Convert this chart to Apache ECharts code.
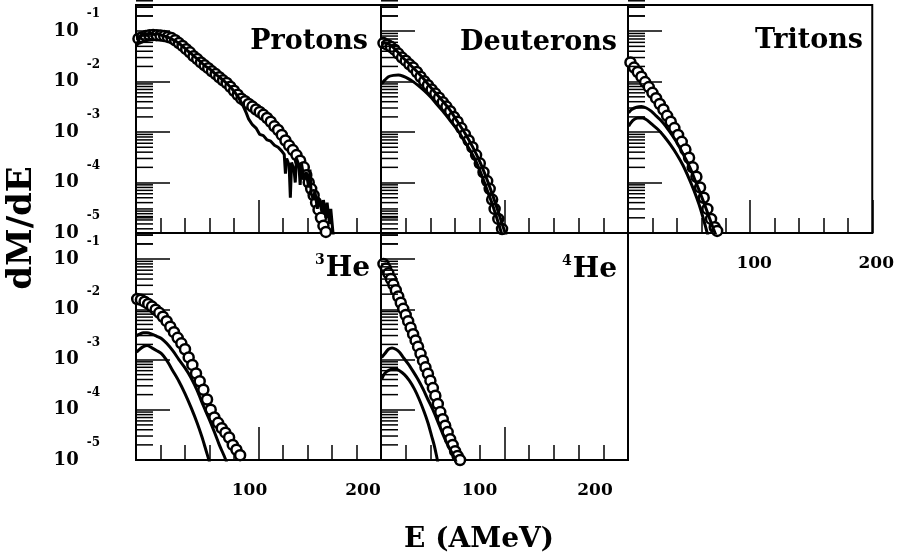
<!DOCTYPE html>
<html lang="en">
<head>
  <meta charset="utf-8">
  <title>dM/dE spectra</title>
  <style>
    * { margin: 0; padding: 0; }
    #chart-container { width: 897px; height: 558px; background: #fff; }
  </style>
</head>
<body>
  <div id="chart-container"></div>
  <script src="https://fastly.jsdelivr.net/npm/echarts@6/dist/echarts.min.js"></script>
  <script>
    var dom = document.getElementById('chart-container');
    var myChart = echarts.init(dom, null, { renderer: 'canvas' });

    // tick labels
    const xTickLabels = [100, 200];
    const yExponents = [-5, -4, -3, -2, -1];
    const minorMultipliers = [2, 3, 4, 5, 6, 7, 8, 9];

    // measured spectra (open circles) and model curves, [E, dM/dE]
    const protonsExp = [[2,0.071],[5,0.076],[8,0.08],[11,0.083],[14,0.084],[17,0.083],[20,0.082],[23,0.08],[26,0.077],[29,0.073],[32,0.066],[35,0.058],[38,0.051],[41,0.044],[44,0.038],[47,0.032],[50,0.028],[53,0.024],[56,0.021],[59,0.0185],[62,0.016],[65,0.0141],[68,0.0122],[71,0.0106],[74,0.0094],[77,0.0079],[80,0.0066],[83,0.0055],[86,0.0046],[89,0.0041],[92,0.0036],[95,0.0032],[98,0.0028],[101,0.0025],[104,0.0022],[107,0.0019],[110,0.0016],[113,0.0013],[116,0.0011],[119,0.00088],[122,0.00068],[125,0.00054],[128,0.00044],[131,0.00035],[134,0.00027],[137,0.0002],[139,0.00014],[141,0.0001],[143,7.5e-5],[145,5.6e-5],[147,4e-5],[149,2.9e-5],[151,2e-5],[153,1.4e-5],[155,1.05e-5]];
    const protonsModel = [[0.5,0.05],[3,0.078],[6,0.088],[9,0.085],[12,0.09],[15,0.086],[18,0.089],[21,0.083],[24,0.079],[27,0.074],[30,0.068],[33,0.062],[36,0.055],[39,0.048],[42,0.041],[45,0.036],[48,0.031],[51,0.027],[54,0.023],[57,0.02],[60,0.018],[63,0.0155],[66,0.0135],[69,0.0118],[72,0.0102],[75,0.0088],[78,0.0074],[81,0.006],[84,0.0047],[87,0.0035],[90,0.0024],[92,0.0018],[95,0.0014],[98,0.0012],[101,0.0009],[104,0.00085],[107,0.0007],[110,0.00066],[113,0.00055],[116,0.0005],[119,0.00042],[121,0.00036],[122,0.00015],[123,0.0003],[125,0.00022],[126,5e-5],[127,0.00025],[129,0.00018],[130,0.0001],[131,0.0003],[133,0.00022],[134,9e-5],[135,0.00025],[137,0.00012],[139,0.00016],[141,8e-5],[142,0.00018],[143,6e-5],[145,4.5e-5],[146,7e-5],[148,3e-5],[149,5e-5],[150,4.8e-5],[152,2.5e-5],[153,4.5e-5],[155,2e-5],[156,4e-5],[158,1.5e-5],[159,3e-5],[161,9e-6]];

    const deuteronsExp = [[2,0.058],[5,0.054],[8,0.049],[11,0.043],[14,0.036],[17,0.03],[20,0.026],[23,0.022],[26,0.019],[29,0.0155],[32,0.0125],[35,0.0102],[38,0.0085],[41,0.007],[44,0.0058],[47,0.0048],[50,0.0039],[53,0.0032],[56,0.0026],[59,0.002],[62,0.0016],[65,0.0012],[68,0.0009],[71,0.00068],[74,0.0005],[77,0.00035],[80,0.00024],[83,0.00016],[86,0.000107],[88,7.5e-5],[90,4.6e-5],[92,3e-5],[95,1.9e-5],[98,1.2e-5]];
    const deuteronsModelA = [[0.5,0.055],[3,0.058],[6,0.056],[9,0.05],[13,0.04],[17,0.031],[21,0.025],[25,0.02],[30,0.015],[35,0.011],[40,0.0078],[45,0.0057],[50,0.0041],[56,0.0027],[62,0.0016],[68,0.00095],[74,0.00052],[80,0.00026],[85,0.00013],[90,6e-5],[95,2.6e-5],[100,1.1e-5],[102,8e-6]];
    const deuteronsModelB = [[0.5,0.009],[3,0.0107],[6,0.0125],[10,0.0133],[14,0.0135],[18,0.0128],[22,0.0115],[26,0.01],[30,0.0084],[35,0.0066],[40,0.005],[45,0.0036],[50,0.0026],[56,0.0017],[62,0.0011],[67,0.0007],[72,0.00044],[77,0.00026],[82,0.00013],[86,7e-5],[90,3.8e-5],[94,1.9e-5],[97,1.1e-5],[99,8e-6]];

    const tritonsExp = [[2,0.024],[5,0.019],[8,0.0155],[11,0.0125],[14,0.0098],[17,0.0078],[20,0.006],[23,0.0047],[26,0.0036],[29,0.0028],[32,0.0021],[35,0.0016],[38,0.0012],[41,0.00088],[44,0.00064],[47,0.00045],[50,0.00031],[53,0.0002],[56,0.00013],[59,8e-5],[62,5e-5],[65,3e-5],[68,1.9e-5],[71,1.3e-5],[73,1.1e-5]];
    const tritonsModelA = [[0.5,0.0024],[3,0.0028],[7,0.0031],[11,0.0032],[15,0.003],[19,0.0026],[23,0.0021],[27,0.0017],[31,0.0013],[35,0.00095],[39,0.00068],[43,0.00046],[47,0.0003],[51,0.00019],[55,0.00011],[59,6.3e-5],[63,3.5e-5],[67,1.9e-5],[70,1.2e-5],[72,9e-6]];
    const tritonsModelB = [[0.5,0.0013],[4,0.0017],[8,0.0019],[12,0.0019],[16,0.0017],[20,0.0014],[25,0.0011],[30,0.0008],[35,0.00055],[40,0.00036],[45,0.00022],[50,0.00012],[54,7e-5],[58,3.8e-5],[61,2.2e-5],[64,1.2e-5],[66,8e-6]];

    const he3Exp = [[1,0.016],[4,0.0155],[7,0.0142],[10,0.0128],[13,0.0113],[16,0.0098],[19,0.0085],[22,0.0071],[25,0.0058],[28,0.0045],[31,0.0035],[34,0.0027],[37,0.0021],[40,0.0016],[43,0.0011],[46,0.00078],[49,0.00053],[52,0.00037],[55,0.00025],[58,0.00016],[61,0.0001],[64,7e-5],[67,5.5e-5],[70,4.3e-5],[73,3.5e-5],[76,2.8e-5],[79,2e-5],[82,1.6e-5],[85,1.25e-5]];
    const he3ModelA = [[0.5,0.003],[3,0.0032],[6,0.0034],[9,0.0034],[13,0.0032],[17,0.0029],[21,0.0026],[25,0.0021],[30,0.0015],[35,0.001],[40,0.00068],[45,0.00043],[50,0.00024],[55,0.00012],[60,6.3e-5],[64,3.6e-5],[68,2e-5],[72,1.2e-5],[74,9e-6]];
    const he3ModelB = [[0.5,0.0014],[3,0.0016],[6,0.0018],[9,0.0019],[13,0.0017],[17,0.0015],[21,0.0013],[25,0.00097],[30,0.0006],[35,0.00037],[40,0.00021],[45,0.00011],[50,5.4e-5],[54,2.8e-5],[57,1.6e-5],[59,1.1e-5],[60,9e-6]];

    const he4Exp = [[2,0.08],[4,0.065],[6,0.052],[8,0.04],[10,0.031],[12,0.024],[14,0.018],[16,0.0135],[18,0.0102],[20,0.0077],[22,0.0058],[24,0.0043],[26,0.0032],[28,0.0024],[30,0.0018],[32,0.0013],[34,0.00095],[36,0.0007],[38,0.00052],[40,0.00038],[42,0.00027],[44,0.00019],[46,0.00013],[48,9e-5],[50,6.5e-5],[52,4.8e-5],[54,3.6e-5],[56,2.6e-5],[58,2e-5],[60,1.5e-5],[62,1.2e-5],[64,1e-5]];
    const he4ModelA = [[0.5,0.0011],[3,0.0013],[6,0.0016],[9,0.0017],[12,0.0016],[15,0.0014],[18,0.0011],[22,0.00082],[26,0.00058],[30,0.0004],[34,0.00026],[38,0.00016],[42,0.0001],[46,5.8e-5],[50,3.3e-5],[54,2e-5],[58,1.3e-5],[61,9e-6]];
    const he4ModelB = [[0.5,0.0004],[3,0.00053],[7,0.00062],[11,0.00066],[15,0.0006],[19,0.0005],[23,0.00038],[27,0.00026],[31,0.00016],[35,9e-5],[38,5.5e-5],[41,3e-5],[43,2e-5],[45,1.2e-5],[46,9e-6]];

    const FONT = 'DejaVu Serif';

    // minor log ticks (2..9 per decade, plus two above 0.1)
    const minorTicks = [];
    yExponents.forEach(function (e) {
      minorMultipliers.forEach(function (m) { minorTicks.push([0, m * Math.pow(10, e)]); });
    });
    minorTicks.push([0, 0.2], [0, 0.3]);

    const panels = [
      { title: 'Protons', box: [136, 5, 245, 228], exp: protonsExp, models: [protonsModel], smooth: false,
        yLabels: true, xLabels: null, titlePos: { right: 529, top: 28 } },
      { title: 'Deuterons', box: [381, 5, 247, 228], exp: deuteronsExp, models: [deuteronsModelA, deuteronsModelB], smooth: 0.3,
        yLabels: false, xLabels: null, titlePos: { right: 280, top: 29 } },
      { title: 'Tritons', box: [628, 5, 248, 228], exp: tritonsExp, models: [tritonsModelA, tritonsModelB], smooth: 0.3,
        yLabels: false, xLabels: [4, 4], titlePos: { right: 34, top: 27 } },
      { title: '{s|3}{h|He}', box: [136, 233, 245, 227], exp: he3Exp, models: [he3ModelA, he3ModelB], smooth: 0.3,
        yLabels: true, xLabels: [-9, -18], titlePos: { right: 527, top: 253 } },
      { title: '{s|4}{h|He}', box: [381, 233, 247, 227], exp: he4Exp, models: [he4ModelA, he4ModelB], smooth: 0.3,
        yLabels: false, xLabels: [-25, -33], titlePos: { right: 280, top: 254 } }
    ];

    function shiftPad(d) {
      return d < 0 ? [0, -2 * d, 0, 0] : [0, 0, 0, 2 * d];
    }

    function yLabel(v) {
      const e = Math.log10(v);
      const r = Math.round(e);
      if (Math.abs(e - r) > 1e-6 || yExponents.indexOf(r) < 0) return '';
      return '{b|10}{e|' + r + '}';
    }

    const grid = [], xAxis = [], yAxis = [], series = [], title = [];

    panels.forEach(function (p, i) {
      grid.push({
        left: p.box[0], top: p.box[1], width: p.box[2], height: p.box[3],
        show: true, borderColor: '#000', borderWidth: 2, backgroundColor: 'transparent'
      });
      xAxis.push({
        type: 'value', gridIndex: i, min: 0, max: 200, interval: 100,
        axisLine: { show: true, lineStyle: { color: '#000', width: 2 } },
        axisTick: { show: true, inside: true, length: 33, lineStyle: { color: '#000', width: 1.5 } },
        minorTick: { show: true, splitNumber: 5, length: 15, lineStyle: { color: '#000', width: 1.5 } },
        splitLine: { show: false },
        axisLabel: {
          show: !!p.xLabels, margin: 22, showMaxLabel: true, showMinLabel: false,
          formatter: function (v) {
            if (v === xTickLabels[0]) return '{a|' + v + '}';
            if (v === xTickLabels[1]) return '{c|' + v + '}';
            return '';
          },
          rich: p.xLabels ? {
            a: { fontFamily: FONT, fontWeight: 'bold', fontSize: 17, color: '#000', padding: shiftPad(p.xLabels[0]) },
            c: { fontFamily: FONT, fontWeight: 'bold', fontSize: 17, color: '#000', padding: shiftPad(p.xLabels[1]) }
          } : {}
        }
      });
      yAxis.push({
        type: 'log', logBase: 10, gridIndex: i, min: 1e-5, max: 0.33,
        axisLine: { show: true, onZero: false, lineStyle: { color: '#000', width: 2 } },
        axisTick: { show: true, inside: true, length: 34, lineStyle: { color: '#000', width: 1.5 } },
        splitLine: { show: false },
        axisLabel: {
          show: p.yLabels, margin: 36, formatter: yLabel,
          rich: {
            b: { fontFamily: FONT, fontWeight: 'bold', fontSize: 18, color: '#000' },
            e: { fontFamily: FONT, fontWeight: 'bold', fontSize: 12, color: '#000', padding: [0, 0, 34, 8] }
          }
        }
      });
      series.push({
        type: 'custom', xAxisIndex: i, yAxisIndex: i, data: minorTicks, silent: true, z: 4,
        renderItem: function (params, api) {
          const pt = api.coord([api.value(0), api.value(1)]);
          return {
            type: 'line',
            shape: { x1: pt[0], y1: pt[1], x2: pt[0] + 17, y2: pt[1] },
            style: { stroke: '#000', lineWidth: 1.5 }
          };
        }
      });
      // measured points: open circles joined by a dark trace
      series.push({
        type: 'line', xAxisIndex: i, yAxisIndex: i, data: p.exp,
        showSymbol: true, symbol: 'circle', symbolSize: 10,
        lineStyle: { color: '#000', width: 3.5 },
        itemStyle: { color: '#fff', borderColor: '#000', borderWidth: 2.5 }, z: 2
      });
      p.models.forEach(function (m) {
        series.push({
          type: 'line', xAxisIndex: i, yAxisIndex: i, data: m, showSymbol: false, smooth: p.smooth,
          lineStyle: { color: '#000', width: 3 }, z: 3
        });
      });
      title.push({
        text: p.title, right: p.titlePos.right, top: p.titlePos.top, padding: 0,
        textStyle: {
          fontFamily: FONT, fontWeight: 'bold', fontSize: 27, color: '#000',
          rich: {
            h: { fontFamily: FONT, fontWeight: 'bold', fontSize: 28, color: '#000' },
            s: { fontFamily: FONT, fontWeight: 'bold', fontSize: 14, color: '#000', padding: [0, 1, 18, 0] }
          }
        }
      });
    });

    var option = {
      backgroundColor: '#fff',
      animation: false,
      title: title,
      grid: grid,
      xAxis: xAxis,
      yAxis: yAxis,
      series: series,
      graphic: [
        {
          type: 'text', x: 22, y: 228, rotation: Math.PI / 2,
          style: { text: 'dM/dE', fill: '#000', font: 'bold 34px "DejaVu Serif"', align: 'center', verticalAlign: 'middle', textAlign: 'center', textVerticalAlign: 'middle' }
        },
        {
          type: 'text', x: 479, y: 540,
          style: { text: 'E (AMeV)', fill: '#000', font: 'bold 28px "DejaVu Serif"', align: 'center', verticalAlign: 'middle', textAlign: 'center', textVerticalAlign: 'middle' }
        }
      ]
    };

    myChart.setOption(option);
    window.addEventListener('resize', myChart.resize);
  </script>
</body>
</html>
